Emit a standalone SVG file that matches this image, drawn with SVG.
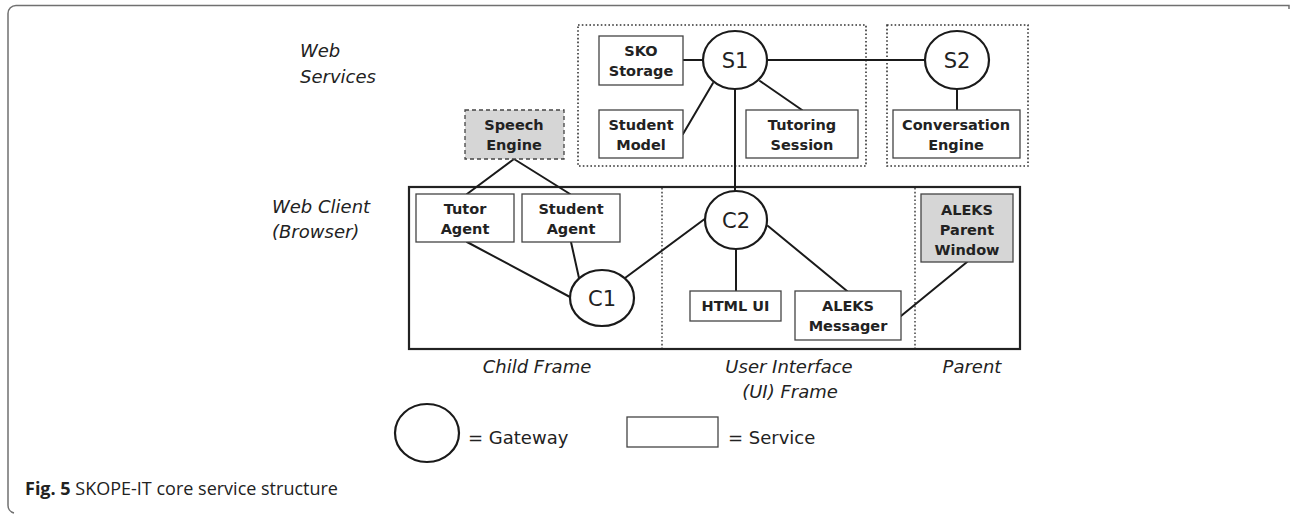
<svg xmlns="http://www.w3.org/2000/svg" width="1291" height="514" viewBox="0 0 1291 514">
  <defs>
    <style>
      .frame { fill: none; stroke: #707070; stroke-width: 1.5; }
      .zone { fill: none; stroke: #333; stroke-width: 1.6; stroke-dasharray: 1.6 2.2; }
      .client { fill: none; stroke: #222; stroke-width: 2.2; }
      .divider { fill: none; stroke: #333; stroke-width: 1.4; stroke-dasharray: 1.6 2.2; }
      .svc { fill: #fff; stroke: #444; stroke-width: 1.3; }
      .svc-gray { fill: #d6d6d6; stroke: #444; stroke-width: 1.3; }
      .svc-ext { fill: #d6d6d6; stroke: #444; stroke-width: 1.3; stroke-dasharray: 4 3; }
      .gw { fill: #fff; stroke: #1a1a1a; stroke-width: 2.2; }
      .link { fill: none; stroke: #1a1a1a; stroke-width: 2; stroke-linecap: round; }
      .lbl { font-family: "DejaVu Sans", Verdana, sans-serif; font-size: 14.5px; font-weight: bold; fill: #222; text-anchor: middle; }
      .gwt { font-family: "DejaVu Sans", Verdana, sans-serif; font-size: 21px; fill: #222; text-anchor: middle; }
      .area { font-family: "DejaVu Sans", Verdana, sans-serif; font-size: 18px; font-style: italic; fill: #222; }
      .legend { font-family: "DejaVu Sans", Verdana, sans-serif; font-size: 18px; fill: #222; }
      .cap { font-family: "Open Sans", "Noto Sans", sans-serif; font-size: 18px; fill: #222; }
    </style>
  </defs>

  <rect width="1291" height="514" fill="#fff"/>

  <!-- figure frame -->
  <path class="frame" d="M1289,9 V5.5 H16 A8,8 0 0 0 8,13.5 V505 A8,8 0 0 0 14,513"/>

  <!-- tier labels -->
  <text class="area" x="300" y="57">Web</text>
  <text class="area" x="300" y="83">Services</text>
  <text class="area" x="272" y="213">Web Client</text>
  <text class="area" x="272" y="238">(Browser)</text>

  <!-- service zones and browser frame -->
  <rect class="zone" x="578" y="25" width="288" height="141"/>
  <rect class="zone" x="887" y="25" width="141" height="141"/>
  <rect class="client" x="409" y="187" width="611" height="162"/>
  <line class="divider" x1="662" y1="188" x2="662" y2="348"/>
  <line class="divider" x1="915" y1="188" x2="915" y2="348"/>

  <!-- frame labels -->
  <text class="area" x="537" y="373" text-anchor="middle">Child Frame</text>
  <text class="area" x="789" y="373" text-anchor="middle">User Interface</text>
  <text class="area" x="790" y="398" text-anchor="middle">(UI) Frame</text>
  <text class="area" x="972" y="373" text-anchor="middle">Parent</text>

  <!-- connectors -->
  <g id="connectors">
    <line class="link" x1="683" y1="60" x2="705" y2="60"/>
    <line class="link" x1="683" y1="134" x2="713" y2="83"/>
    <line class="link" x1="760" y1="81" x2="802" y2="110"/>
    <line class="link" x1="767" y1="60" x2="925" y2="60"/>
    <line class="link" x1="735" y1="89" x2="735" y2="191"/>
    <line class="link" x1="957" y1="89" x2="957" y2="110"/>
    <line class="link" x1="514" y1="159" x2="467" y2="194"/>
    <line class="link" x1="514" y1="159" x2="570" y2="194"/>
    <line class="link" x1="467" y1="242" x2="570" y2="297"/>
    <line class="link" x1="571" y1="242" x2="579" y2="278"/>
    <line class="link" x1="625" y1="278" x2="706" y2="218"/>
    <line class="link" x1="736" y1="249" x2="736" y2="291"/>
    <line class="link" x1="768" y1="226" x2="847" y2="291"/>
    <line class="link" x1="901" y1="316" x2="967" y2="262"/>
  </g>

  <!-- gateways -->
  <g id="S1">
    <ellipse class="gw" cx="735" cy="60" rx="32" ry="29"/>
    <text class="gwt" x="735" y="67.5">S1</text>
  </g>
  <g id="S2">
    <ellipse class="gw" cx="957" cy="60" rx="32" ry="29"/>
    <text class="gwt" x="957" y="67.5">S2</text>
  </g>
  <g id="C1">
    <ellipse class="gw" cx="602" cy="298" rx="32" ry="28"/>
    <text class="gwt" x="602" y="305.5">C1</text>
  </g>
  <g id="C2">
    <ellipse class="gw" cx="736" cy="220" rx="31" ry="29"/>
    <text class="gwt" x="736" y="227.5">C2</text>
  </g>

  <!-- services -->
  <g id="sko-storage">
    <rect class="svc" x="599" y="36" width="84" height="49"/>
    <text class="lbl" x="641" y="56">SKO</text>
    <text class="lbl" x="641" y="76">Storage</text>
  </g>
  <g id="student-model">
    <rect class="svc" x="599" y="110" width="84" height="48"/>
    <text class="lbl" x="641" y="130">Student</text>
    <text class="lbl" x="641" y="150">Model</text>
  </g>
  <g id="tutoring-session">
    <rect class="svc" x="746" y="110" width="112" height="48"/>
    <text class="lbl" x="802" y="130">Tutoring</text>
    <text class="lbl" x="802" y="150">Session</text>
  </g>
  <g id="conversation-engine">
    <rect class="svc" x="893" y="110" width="127" height="48"/>
    <text class="lbl" x="956" y="130">Conversation</text>
    <text class="lbl" x="956" y="150">Engine</text>
  </g>
  <g id="speech-engine">
    <rect class="svc-ext" x="465" y="110" width="99" height="49"/>
    <text class="lbl" x="514" y="130">Speech</text>
    <text class="lbl" x="514" y="150">Engine</text>
  </g>
  <g id="tutor-agent">
    <rect class="svc" x="416" y="194" width="98" height="48"/>
    <text class="lbl" x="465" y="214">Tutor</text>
    <text class="lbl" x="465" y="234">Agent</text>
  </g>
  <g id="student-agent">
    <rect class="svc" x="522" y="194" width="98" height="48"/>
    <text class="lbl" x="571" y="214">Student</text>
    <text class="lbl" x="571" y="234">Agent</text>
  </g>
  <g id="html-ui">
    <rect class="svc" x="690" y="291" width="91" height="30"/>
    <text class="lbl" x="735.5" y="311">HTML UI</text>
  </g>
  <g id="aleks-messager">
    <rect class="svc" x="795" y="291" width="106" height="49"/>
    <text class="lbl" x="848" y="311">ALEKS</text>
    <text class="lbl" x="848" y="331">Messager</text>
  </g>
  <g id="aleks-parent-window">
    <rect class="svc-gray" x="921" y="194" width="92" height="68"/>
    <text class="lbl" x="967" y="215">ALEKS</text>
    <text class="lbl" x="967" y="235">Parent</text>
    <text class="lbl" x="967" y="255">Window</text>
  </g>

  <!-- legend -->
  <g id="legend">
    <ellipse class="gw" cx="427" cy="433" rx="32" ry="29"/>
    <text class="legend" x="468" y="444">= Gateway</text>
    <rect class="svc" x="627" y="417" width="91" height="30"/>
    <text class="legend" x="728" y="444">= Service</text>
  </g>

  <!-- caption -->
  <text class="cap" x="25" y="495"><tspan font-weight="bold">Fig. 5</tspan> SKOPE-IT core service structure</text>
</svg>
